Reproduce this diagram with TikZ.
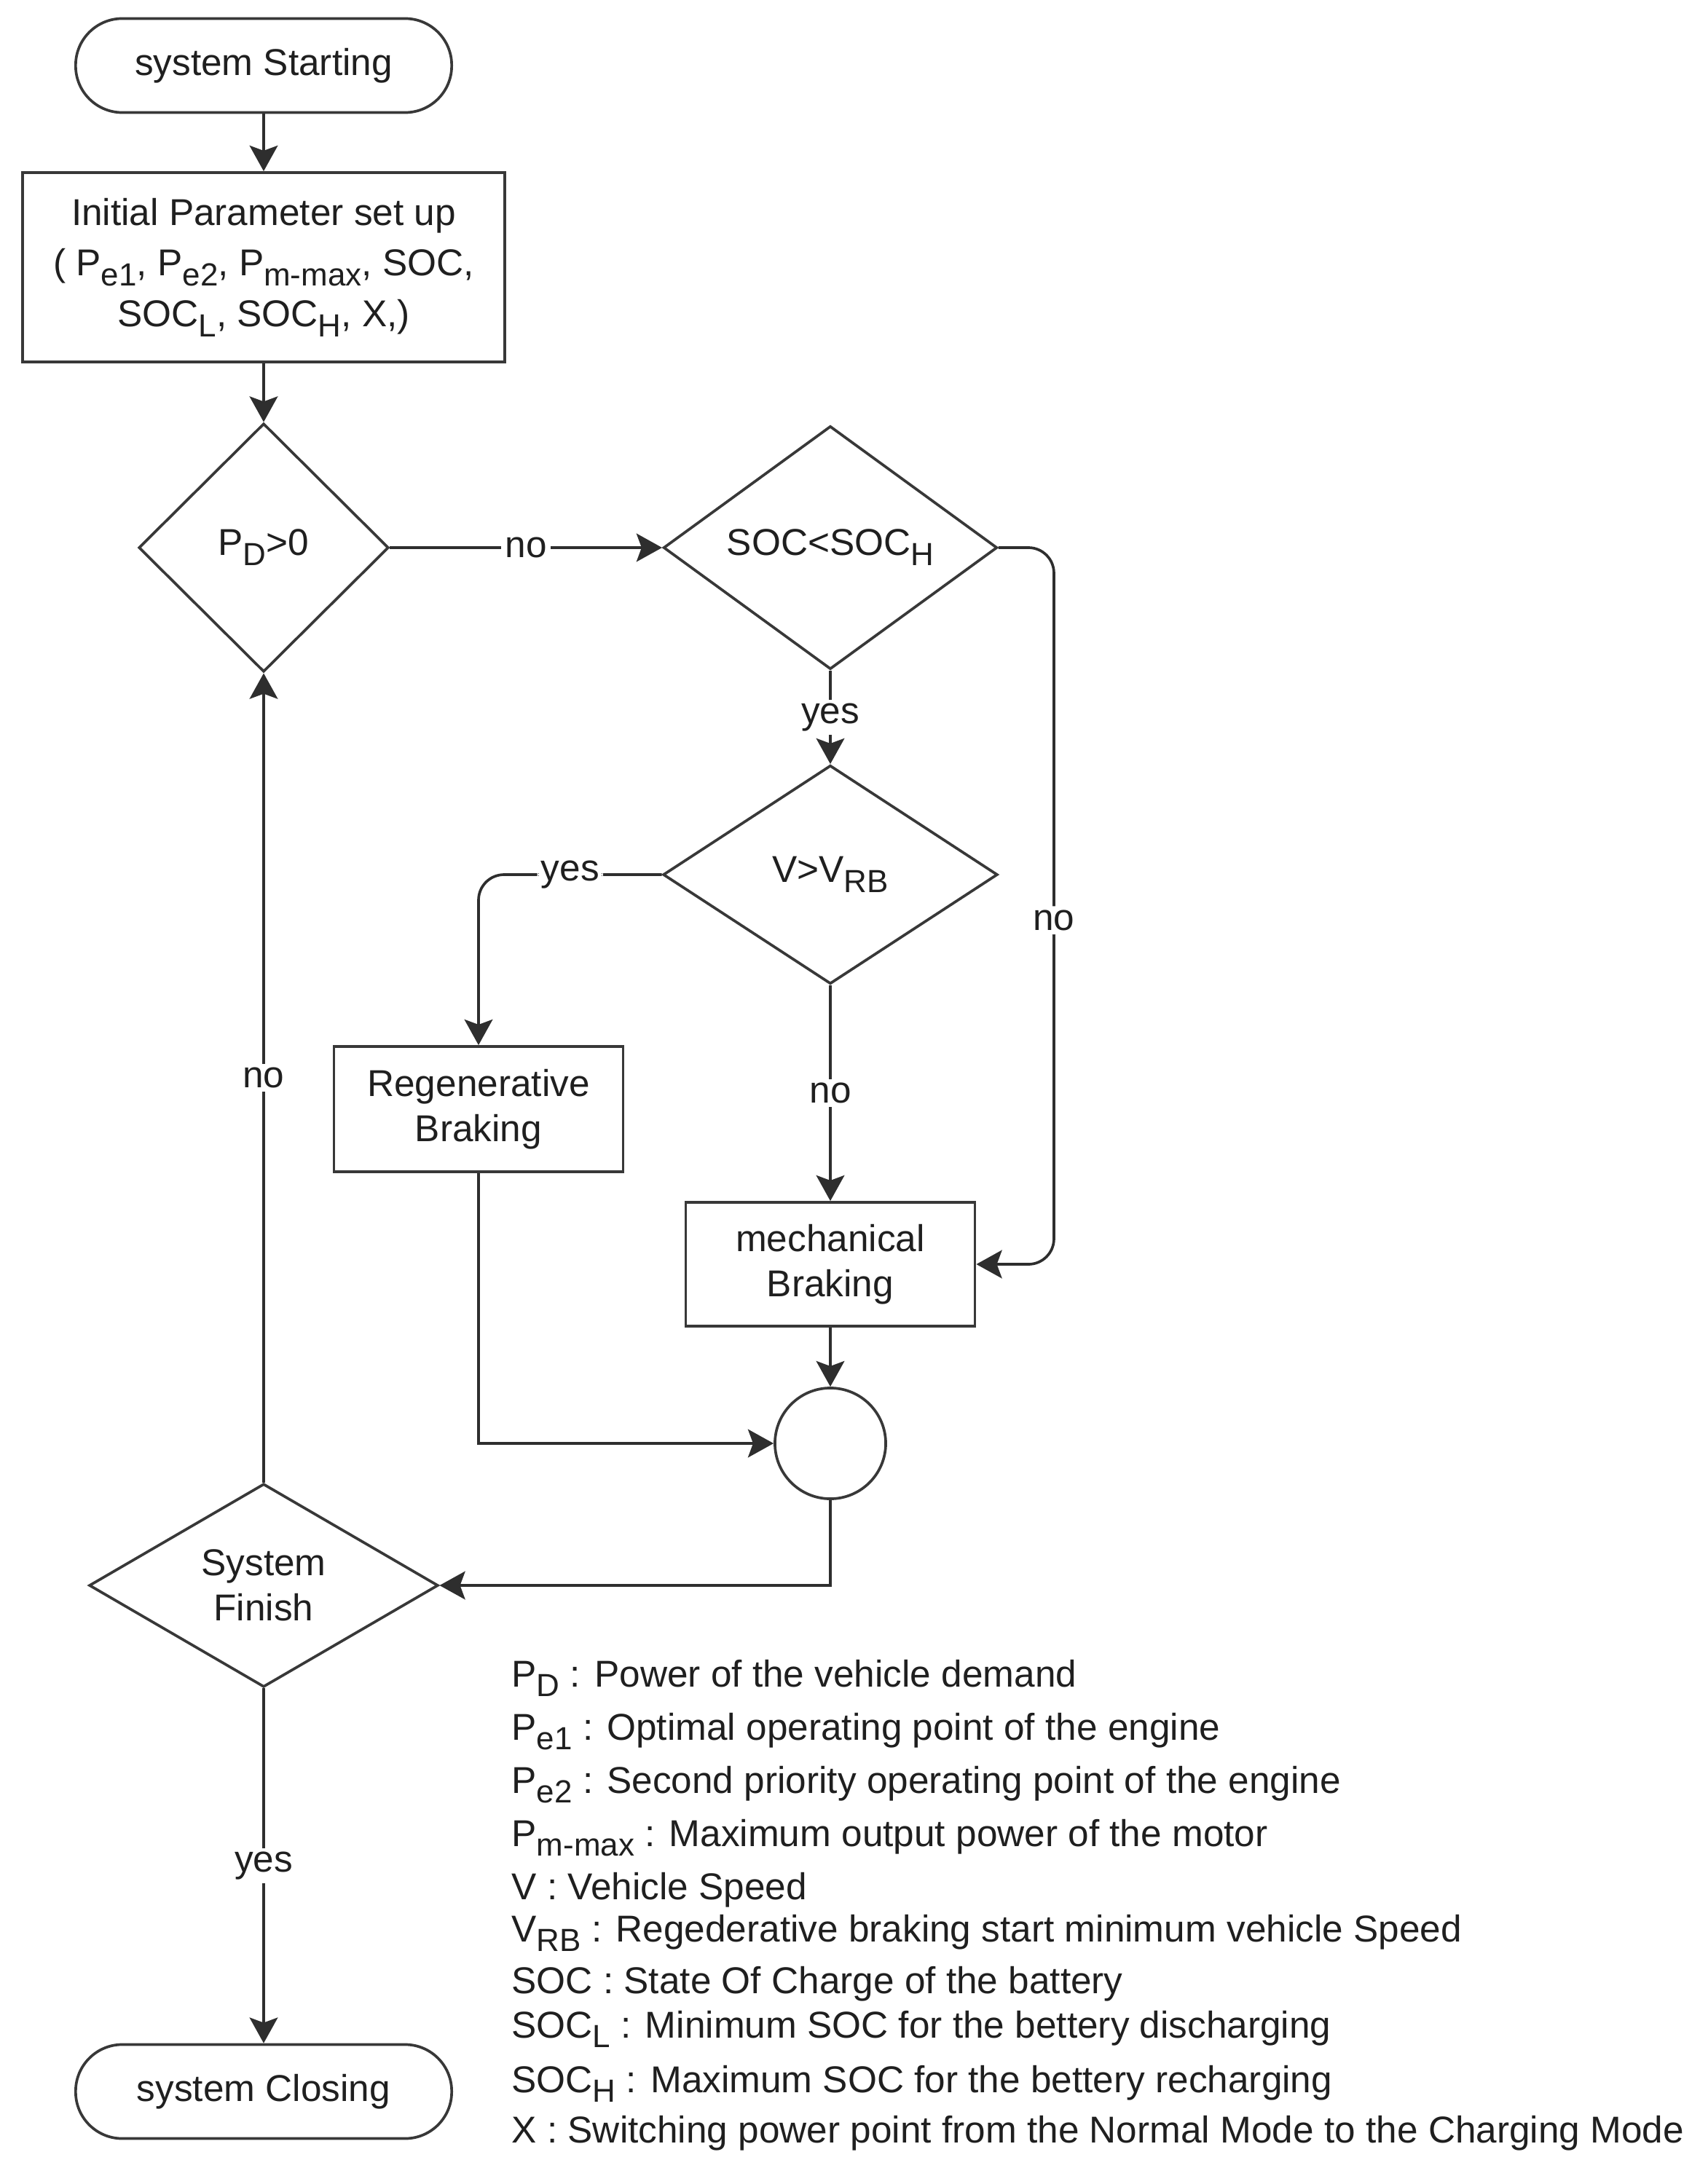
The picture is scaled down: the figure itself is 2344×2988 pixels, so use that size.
\documentclass[tikz,border=0pt]{standalone}
\usepackage{fontspec}
\setmainfont{Liberation Sans}
\usetikzlibrary{shapes.geometric,arrows.meta}

\newcommand{\lowsub}[1]{\raisebox{-0.27em}{\fontsize{12.5}{12}\selectfont #1}}

\tikzset{
  every node/.style={font=\fontsize{14.6}{17.5}\selectfont,text=black!88},
  terminal/.style={draw=black!78,line width=1.05pt,rounded corners=0.64cm,
    minimum width=5.16cm,minimum height=1.29cm,inner sep=0pt},
  procbox/.style={draw=black!78,line width=1.05pt,align=center,inner sep=0pt},
  decision/.style={diamond,aspect=1,draw=black!78,line width=1.05pt,align=center,inner sep=0pt},
  junction/.style={circle,draw=black!78,line width=1.05pt,minimum size=1.52cm,inner sep=0pt},
  flowline/.style={draw=black!82,line width=1.05pt,-{Stealth[length=10pt,width=11pt,inset=2pt]}},
  lbl/.style={fill=white,inner sep=1.5pt},
  legendline/.style={anchor=base west,inner sep=0pt}
}

\begin{document}
\begin{tikzpicture}[x=0.01cm,y=-0.01cm]
  \useasboundingbox (0,0) rectangle (2344,2988);

  % flow chart
  \node[terminal] (start) at (362,90) {system Starting};
  \node[procbox,minimum width=6.61cm,minimum height=2.6cm,
    font=\fontsize{14.6}{19.8}\selectfont] (init) at (362,367)
    {Initial Parameter set up\\( P\lowsub{e1}, P\lowsub{e2}, P\lowsub{m-max}, SOC,\\SOC\lowsub{L}, SOC\lowsub{H}, X,)};
  \node[decision,minimum width=3.43cm,minimum height=3.41cm] (pd) at (362,752) {P\lowsub{D}>0};
  \node[decision,minimum width=4.58cm,minimum height=3.0cm] (soc) at (1140,752) {SOC<SOC\lowsub{H}};
  \node[decision,minimum width=4.59cm,minimum height=3.0cm] (vrb) at (1140,1201) {V>V\lowsub{RB}};
  \node[procbox,minimum width=3.97cm,minimum height=1.72cm] (regen) at (657,1523) {Regenerative\\Braking};
  \node[procbox,minimum width=3.97cm,minimum height=1.70cm] (mech) at (1140,1736) {mechanical\\Braking};
  \node[junction] (join) at (1140,1982) {};
  \node[decision,minimum width=4.79cm,minimum height=2.79cm] (fin) at (362,2177) {System\\Finish};
  \node[terminal] (close) at (362,2872) {system Closing};

  % connectors
  \draw[flowline] (start) -- (init);
  \draw[flowline] (init) -- (pd);
  \draw[flowline] (pd) -- node[lbl] {no} (soc);
  \draw[flowline] (soc) -- node[lbl] {yes} (vrb);
  \draw[flowline,rounded corners=0.35cm] (vrb.west) -| node[lbl,pos=0.25] {yes} (regen.north);
  \draw[flowline] (vrb) -- node[lbl] {no} (mech);
  \draw[flowline,rounded corners=0.35cm] (soc.east) -- ++(76,0) |- node[lbl,pos=0.26] {no} (mech.east);
  \draw[flowline] (mech) -- (join);
  \draw[flowline] (regen.south) |- (join.west);
  \draw[flowline] (join.south) |- (fin.east);
  \draw[flowline] (fin) -- node[lbl] {no} (pd);
  \draw[flowline] (fin) -- node[lbl] {yes} (close);

  % legend
  \node[legendline] (lg1) at (702,2316) {P\lowsub{D} : Power of the vehicle demand};
  \node[legendline] (lg2) at (702,2389) {P\lowsub{e1} : Optimal operating point of the engine};
  \node[legendline] (lg3) at (702,2462) {P\lowsub{e2} : Second priority operating point of the engine};
  \node[legendline] (lg4) at (702,2535) {P\lowsub{m-max} : Maximum output power of the motor};
  \node[legendline] (lg5) at (702,2608) {V : Vehicle Speed};
  \node[legendline] (lg6) at (702,2666) {V\lowsub{RB} : Regederative braking start minimum vehicle Speed};
  \node[legendline] (lg7) at (702,2737) {SOC : State Of Charge of the battery};
  \node[legendline] (lg8) at (702,2798) {SOC\lowsub{L} : Minimum SOC for the bettery discharging};
  \node[legendline] (lg9) at (702,2873) {SOC\lowsub{H} : Maximum SOC for the bettery recharging};
  \node[legendline] (lg10) at (702,2942) {X : Switching power point from the Normal Mode to the Charging Mode};
\end{tikzpicture}
\end{document}
